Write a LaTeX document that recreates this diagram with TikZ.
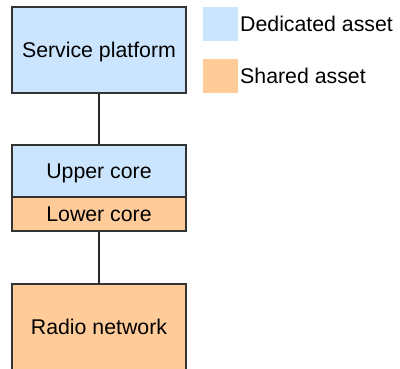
\documentclass[tikz,border=0pt]{standalone}
\usepackage{fontspec}
\setmainfont{Liberation Sans}
\definecolor{dedicated}{HTML}{CCE5FF}
\definecolor{shared}{HTML}{FFCC99}
\definecolor{edge}{HTML}{333333}
\begin{document}
\begin{tikzpicture}[x=1pt,y=-1pt,
  box/.style={draw=edge,line width=1.5pt,inner sep=0pt},
  label/.style={font=\fontsize{21.3}{24}\selectfont,inner sep=0pt,
    text height=15.2pt,text depth=0pt},
  link/.style={draw=black!85,line width=1.8pt}]
\useasboundingbox (0,0) rectangle (400,369);
% blocks of the stack
\node[box,fill=dedicated,minimum width=174pt,minimum height=86pt] (sp) at (99,50) {};
\node[label] (spt) at (sp) {Service platform};
\node[box,fill=dedicated,minimum width=174pt,minimum height=52pt] (uc) at (99,171) {};
\node[label] (uct) at (uc) {Upper core};
\node[box,fill=shared,minimum width=174pt,minimum height=34pt] (lc) at (99,214) {};
\node[label] (lct) at (lc) {Lower core};
\node[box,fill=shared,minimum width=174pt,minimum height=88pt] (rn) at (99,328) {};
\node[label] (rnt) at (99,326.5) {Radio network};
% connectors
\draw[link] (sp.south) -- (uc.north);
\draw[link] (lc.south) -- (rn.north);
% legend
\fill[dedicated] (203,7) rectangle (238,41);
\node[label,anchor=west] (ld) at (240,24) {Dedicated asset};
\fill[shared] (203,59) rectangle (238,93);
\node[label,anchor=west] (ls) at (240,76) {Shared asset};
\end{tikzpicture}
\end{document}
